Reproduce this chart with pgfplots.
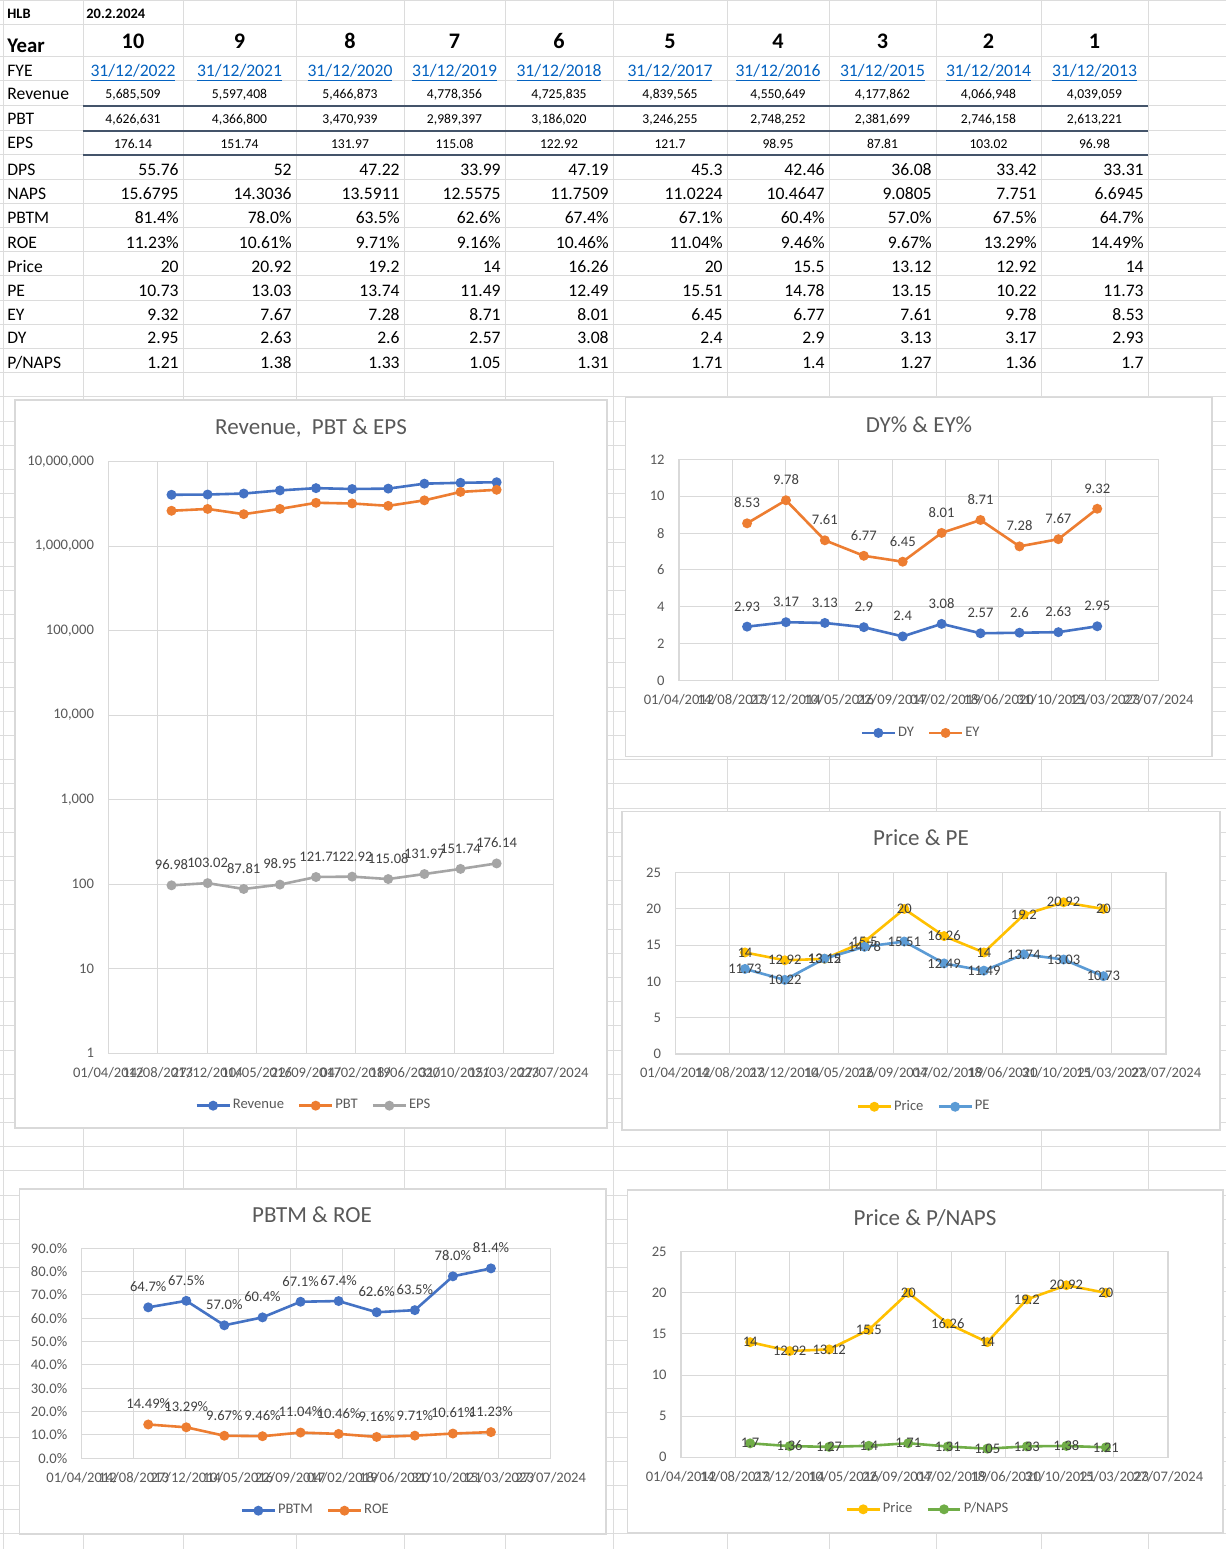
\documentclass[border=0pt]{standalone}
\usepackage{fontspec}
\setmainfont{Carlito}
\usepackage{pgfplots}
\usepackage{pgfplotstable}
\pgfplotsset{compat=1.18}

\definecolor{xlblue}{HTML}{4472C4}
\definecolor{xlorange}{HTML}{ED7D31}
\definecolor{xlgray}{HTML}{A5A5A5}
\definecolor{xlgold}{HTML}{FFC000}
\definecolor{xlsky}{HTML}{5B9BD5}
\definecolor{xlgreen}{HTML}{70AD47}
\definecolor{gridc}{HTML}{D9D9D9}
\definecolor{cellc}{HTML}{DCDCDC}
\definecolor{txtc}{HTML}{595959}
\definecolor{lblc}{HTML}{404040}
\definecolor{linkc}{HTML}{0563C1}
\definecolor{bordc}{HTML}{44546A}

% one row per financial year, oldest first; x = days after 01/04/2012
\pgfplotstableread{
x    Rev     PBT     EPS    PBTM ROE   Price PE    EY   DY   PNAPS
639  4039059 2613221 96.98  64.7 14.49 14    11.73 8.53 2.93 1.7
1004 4066948 2746158 103.02 67.5 13.29 12.92 10.22 9.78 3.17 1.36
1369 4177862 2381699 87.81  57.0 9.67  13.12 13.15 7.61 3.13 1.27
1735 4550649 2748252 98.95  60.4 9.46  15.5  14.78 6.77 2.9  1.4
2100 4839565 3246255 121.7  67.1 11.04 20    15.51 6.45 2.4  1.71
2465 4725835 3186020 122.92 67.4 10.46 16.26 12.49 8.01 3.08 1.31
2830 4778356 2989397 115.08 62.6 9.16  14    11.49 8.71 2.57 1.05
3196 5466873 3470939 131.97 63.5 9.71  19.2  13.74 7.28 2.6  1.33
3561 5597408 4366800 151.74 78.0 10.61 20.92 13.03 7.67 2.63 1.38
3926 5685509 4626631 176.14 81.4 11.23 20    10.73 9.32 2.95 1.21
}\data

\newcommand\fmain{\fontsize{8.8}{10}\selectfont}
\newcommand\fsmall{\fontsize{6.8}{8}\selectfont}
\newcommand\fchart{\fontsize{7.3}{8}\selectfont}
\newcommand\ftitle{\fontsize{11.5}{13}\selectfont}

% centred row and right-aligned row of the sheet
\newcommand\crow[3]{%
  \foreach \v [count=\i from 0] in {#3}{%
    \pgfmathsetmacro\cx{{133,239.5,350,454.5,559,670,778,882.5,988.5,1094.5}[\i]}%
    \node[anchor=base, inner sep=0pt] at (\cx,#1) {#2\v};}}
\newcommand\rrow[3]{%
  \foreach \v [count=\i from 0] in {#3}{%
    \pgfmathsetmacro\cx{{179,292,400,501,609,723,825,932,1037,1144}[\i]}%
    \node[anchor=base east, inner sep=0pt] at (\cx,#1) {#2\v};}}

\pgfplotsset{
  xlchart/.style={
    scale only axis, anchor=south west, clip=false,
    xmin=0, xmax=4500, xtick={0,500,...,4500},
    xticklabels={01/04/2012,14/08/2013,27/12/2014,10/05/2016,22/09/2017,04/02/2019,18/06/2020,31/10/2021,15/03/2023,27/07/2024},
    grid=major, major grid style={draw=gridc, line width=0.5pt},
    axis line style={draw=gridc, line width=0.6pt},
    tick style={draw=none},
    /pgf/number format/assume math mode=true,
    ticklabel style={font=\fchart, text=txtc, inner sep=0pt},
    xticklabel style={anchor=base, yshift=-12pt},
    yticklabel style={anchor=east, xshift=-7pt},
    legend columns=-1,
    legend style={draw=none, fill=none, font=\fchart, anchor=center,
      /tikz/every even column/.append style={column sep=6pt},
      nodes={inner sep=1pt, text=txtc}},
    legend image code/.code={\draw[mark repeat=2,mark phase=2,##1] plot coordinates {(0pt,0pt) (8.2pt,0pt) (16.4pt,0pt)};},
    every axis plot/.append style={line width=1.3pt, mark=*, mark size=1.8pt, mark options={solid}},
  },
  lbl/.style={nodes near coords, point meta=explicit symbolic,
    every node near coord/.append style={font=\fchart, text=lblc, inner sep=0pt}},
  lblabove/.style={lbl, every node near coord/.append style={anchor=base, yshift=7.8pt}},
  lblcenter/.style={lbl, every node near coord/.append style={anchor=center}},
}

\begin{document}
\begin{tikzpicture}
\path[use as bounding box] (0,0) rectangle (613pt,774.5pt);
\fill[white] (0,0) rectangle (613pt,774.5pt);

\begin{scope}[yshift=774.5pt, x=0.5pt, y=-0.5pt]
  % sheet cells
  \foreach \cx in {3,83,183,296,404,505,613,727,829,936,1041,1148}
    \draw[cellc, line width=0.5pt] (\cx,0) -- (\cx,1549);
  \foreach \ry in {1,25,56.7,81,106,130.7}
    \draw[cellc, line width=0.5pt] (0,\ry) -- (1226,\ry);
  \foreach \k in {0,...,58}
    \draw[cellc, line width=0.5pt] (0,{155+24.19*\k}) -- (1226,{155+24.19*\k});
  \foreach \ry in {106,130.7,155}
    \draw[bordc, line width=1pt] (83,\ry) -- (1148,\ry);

  % sheet text
  \node[anchor=base west, inner sep=0pt] at (7,18.3) {\bfseries\fontsize{7.2}{8}\selectfont HLB};
  \node[anchor=base west, inner sep=0pt] at (86,18.3) {\bfseries\fontsize{7.2}{8}\selectfont 20.2.2024};
  \node[anchor=base west, inner sep=0pt] at (7,52.5) {\bfseries\fontsize{10.4}{12}\selectfont Year};
  \crow{49}{\bfseries\fontsize{11.1}{12}\selectfont}{10,9,8,7,6,5,4,3,2,1}
  \foreach \lab/\yb in {FYE/77,Revenue/100,PBT/124.7,EPS/149,DPS/175.5,NAPS/199.5,PBTM/223.8,ROE/248.2,Price/272.2,PE/296.2,EY/320.5,DY/343.8,P\slash NAPS/368.2}
    \node[anchor=base west, inner sep=0pt] at (7,\yb) {\fmain\lab};
  \crow{77}{\fmain\color{linkc}\underline}{31/12/2022,31/12/2021,31/12/2020,31/12/2019,31/12/2018,31/12/2017,31/12/2016,31/12/2015,31/12/2014,31/12/2013}
  \crow{99}{\fsmall}{{5,685,509},{5,597,408},{5,466,873},{4,778,356},{4,725,835},{4,839,565},{4,550,649},{4,177,862},{4,066,948},{4,039,059}}
  \crow{124}{\fsmall}{{4,626,631},{4,366,800},{3,470,939},{2,989,397},{3,186,020},{3,246,255},{2,748,252},{2,381,699},{2,746,158},{2,613,221}}
  \crow{149}{\fsmall}{176.14,151.74,131.97,115.08,122.92,121.7,98.95,87.81,103.02,96.98}
  \rrow{175.5}{\fmain}{55.76,52,47.22,33.99,47.19,45.3,42.46,36.08,33.42,33.31}
  \rrow{199.5}{\fmain}{15.6795,14.3036,13.5911,12.5575,11.7509,11.0224,10.4647,9.0805,7.751,6.6945}
  \rrow{223.8}{\fmain}{81.4\%,78.0\%,63.5\%,62.6\%,67.4\%,67.1\%,60.4\%,57.0\%,67.5\%,64.7\%}
  \rrow{248.2}{\fmain}{11.23\%,10.61\%,9.71\%,9.16\%,10.46\%,11.04\%,9.46\%,9.67\%,13.29\%,14.49\%}
  \rrow{272.2}{\fmain}{20,20.92,19.2,14,16.26,20,15.5,13.12,12.92,14}
  \rrow{296.2}{\fmain}{10.73,13.03,13.74,11.49,12.49,15.51,14.78,13.15,10.22,11.73}
  \rrow{320.5}{\fmain}{9.32,7.67,7.28,8.71,8.01,6.45,6.77,7.61,9.78,8.53}
  \rrow{343.8}{\fmain}{2.95,2.63,2.6,2.57,3.08,2.4,2.9,3.13,3.17,2.93}
  \rrow{368.2}{\fmain}{1.21,1.38,1.33,1.05,1.31,1.71,1.4,1.27,1.36,1.7}

  % chart frames and titles
  \filldraw[fill=white, draw=gridc, line width=0.6pt] (15,400) rectangle (607,1128);
  \filldraw[fill=white, draw=gridc, line width=0.6pt] (625.8,397.7) rectangle (1212,756.7);
  \filldraw[fill=white, draw=gridc, line width=0.6pt] (622,811.7) rectangle (1220,1130);
  \filldraw[fill=white, draw=gridc, line width=0.6pt] (19.6,1189) rectangle (606,1534);
  \filldraw[fill=white, draw=gridc, line width=0.6pt] (627.7,1190) rectangle (1223,1533);
  \node[text=txtc, font=\ftitle] at (311,428) {Revenue,\ \ PBT \& EPS};
  \node[text=txtc, font=\ftitle] at (919,425) {DY\% \& EY\%};
  \node[text=txtc, font=\ftitle] at (921,838) {Price \& PE};
  \node[text=txtc, font=\ftitle] at (312,1215) {PBTM \& ROE};
  \node[text=txtc, font=\ftitle] at (925,1218) {Price \& P/NAPS};
\end{scope}

% Revenue, PBT & EPS
\begin{axis}[xlchart, at={(54.15pt,247.85pt)}, width=222.55pt, height=295.9pt,
  ymode=log, ymin=1, ymax=1e7,
  ytick={1,10,100,1000,10000,100000,1000000,10000000},
  yticklabels={1,10,100,{1,000},{10,000},{100,000},{1,000,000},{10,000,000}},
  legend style={at={(0.462,-0.0885)}}]
\addplot[xlblue] table[x=x,y=Rev] {\data}; \addlegendentry{Revenue}
\addplot[xlorange] table[x=x,y=PBT] {\data}; \addlegendentry{PBT}
\addplot[xlgray, lblabove] table[x=x,y=EPS,meta=EPS] {\data}; \addlegendentry{EPS}
\end{axis}

% DY% & EY%
\begin{axis}[xlchart, at={(339.5pt,434.15pt)}, width=239.7pt, height=110.7pt,
  ymin=0, ymax=12, ytick={0,2,...,12},
  legend style={at={(0.505,-0.236)}}]
\addplot[xlblue, lblabove] table[x=x,y=DY,meta=DY] {\data}; \addlegendentry{DY}
\addplot[xlorange, lblabove] table[x=x,y=EY,meta=EY] {\data}; \addlegendentry{EY}
\end{axis}

% Price & PE
\begin{axis}[xlchart, at={(337.65pt,247.5pt)}, width=245.35pt, height=90.65pt,
  ymin=0, ymax=25, ytick={0,5,...,25},
  legend style={at={(0.507,-0.291)}}]
\addplot[xlgold, lblcenter] table[x=x,y=Price,meta=Price] {\data}; \addlegendentry{Price}
\addplot[xlsky, lblcenter] table[x=x,y=PE,meta=PE] {\data}; \addlegendentry{PE}
\end{axis}

% PBTM & ROE
\begin{axis}[xlchart, at={(40.8pt,45.35pt)}, width=234.6pt, height=105pt,
  ymin=0, ymax=90, ytick={0,10,...,90},
  yticklabel={\pgfmathprintnumber[fixed,fixed zerofill,precision=1]{\tick}\%},
  legend style={at={(0.499,-0.2495)}}]
\addplot[xlblue, lblabove, nodes near coords={\pgfplotspointmeta\%}] table[x=x,y=PBTM,meta=PBTM] {\data}; \addlegendentry{PBTM}
\addplot[xlorange, lblabove, nodes near coords={\pgfplotspointmeta\%}] table[x=x,y=ROE,meta=ROE] {\data}; \addlegendentry{ROE}
\end{axis}

% Price & P/NAPS
\begin{axis}[xlchart, at={(340.5pt,45.85pt)}, width=243.5pt, height=102.8pt,
  ymin=0, ymax=25, ytick={0,5,...,25},
  legend style={at={(0.507,-0.253)}}]
\addplot[xlgold, lblcenter] table[x=x,y=Price,meta=Price] {\data}; \addlegendentry{Price}
\addplot[xlgreen, lblcenter] table[x=x,y=PNAPS,meta=PNAPS] {\data}; \addlegendentry{P/NAPS}
\end{axis}
\end{tikzpicture}
\end{document}
